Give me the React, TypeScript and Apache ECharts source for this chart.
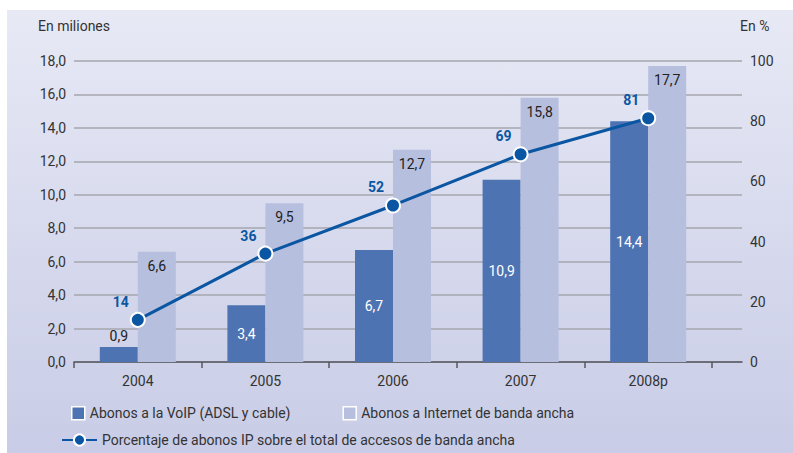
import React, { useEffect, useRef } from "react";
import * as echarts from "echarts";

const categories = ["2004", "2005", "2006", "2007", "2008p"];
const voip = [0.9, 3.4, 6.7, 10.9, 14.4];
const broadband = [6.6, 9.5, 12.7, 15.8, 17.7];
const pct = [14, 36, 52, 69, 81];

const NAME_VOIP = "Abonos a la VoIP (ADSL y cable)";
const NAME_BB = "Abonos a Internet de banda ancha";
const NAME_PCT = "Porcentaje de abonos IP sobre el total de accesos de banda ancha";

const FONT = "'Liberation Sans Narrow', Roboto, 'Liberation Sans', sans-serif";
const TXT = "#333333";
const DARK = "#4e73b3";
const LIGHT = "#b7bfdf";
const LINE = "#0b56a2";

export default function App() {
  const ref = useRef<HTMLDivElement>(null);
  useEffect(() => {
    if (!ref.current) return;
    const chart = echarts.init(ref.current, null, { renderer: "svg" });
    const fmt = (v: number) => v.toFixed(1).replace(".", ",");
    chart.setOption({
      animation: false,
      textStyle: { fontFamily: FONT },
      graphic: [
        {
          type: "rect",
          z: -10,
          silent: true,
          shape: { x: 7, y: 10, width: 786, height: 443 },
          style: {
            fill: new echarts.graphic.LinearGradient(0, 0, 0, 1, [
              { offset: 0, color: "#e7e9f5" },
              { offset: 1, color: "#c8cce6" },
            ]),
          },
        },
        {
          type: "text",
          left: 38,
          top: 19,
          style: { text: "En miliones", fill: TXT, font: `14px ${FONT}` },
        },
        {
          type: "text",
          left: 740,
          top: 19,
          style: { text: "En %", fill: TXT, font: `14px ${FONT}` },
        },
      ],
      grid: [
        { left: 74, right: 51, top: 61, bottom: 91 },
        { left: 74, right: 81, top: 61, bottom: 91 },
      ],
      legend: [
        {
          data: [NAME_VOIP, NAME_BB],
          left: 66,
          top: 401,
          itemWidth: 13,
          itemHeight: 13,
          itemGap: 52,
          icon: "rect",
          itemStyle: { borderColor: "#ffffff", borderWidth: 1.5 },
          textStyle: { fontFamily: FONT, fontSize: 14, color: TXT },
        },
        {
          data: [NAME_PCT],
          left: 56,
          top: 428,
          itemWidth: 35,
          itemHeight: 14,
          textStyle: { fontFamily: FONT, fontSize: 14, color: TXT },
        },
      ],
      xAxis: [
        {
          type: "value",
          gridIndex: 0,
          min: 0,
          max: 1,
          axisLine: { show: true, onZero: false, lineStyle: { color: "#55585f", width: 1.5 } },
          axisTick: { show: false },
          axisLabel: { show: false },
          splitLine: { show: false },
        },
        {
          type: "category",
          gridIndex: 1,
          data: categories,
          axisLine: { show: false },
          axisTick: { show: true, length: 6, lineStyle: { color: "#55585f", width: 1.5 } },
          axisLabel: { color: TXT, fontSize: 14, margin: 12, fontFamily: FONT },
        },
      ],
      yAxis: [
        {
          type: "value",
          gridIndex: 0,
          position: "left",
          min: 0,
          max: 18,
          interval: 2,
          axisLine: { show: false },
          axisTick: { show: false },
          axisLabel: { color: TXT, fontSize: 14, margin: 8, formatter: fmt, fontFamily: FONT },
          splitLine: { show: true, lineStyle: { color: "#a4a6ae", width: 1.5 } },
        },
        {
          type: "value",
          gridIndex: 0,
          position: "right",
          min: 0,
          max: 100,
          interval: 20,
          axisLine: { show: false },
          axisTick: { show: false },
          axisLabel: { color: TXT, fontSize: 14, margin: 8, fontFamily: FONT },
          splitLine: { show: false },
        },
        { type: "value", gridIndex: 1, min: 0, max: 18, show: false, splitLine: { show: false } },
        { type: "value", gridIndex: 1, min: 0, max: 100, show: false, splitLine: { show: false } },
      ],
      series: [
        {
          name: NAME_VOIP,
          type: "bar",
          xAxisIndex: 1,
          yAxisIndex: 2,
          data: voip.map((v, i) => ({
            value: v,
            label:
              i === 0
                ? { position: "top", color: "#222222", distance: 4 }
                : { position: "inside", color: "#ffffff" },
          })),
          barWidth: 38,
          barGap: "0%",
          itemStyle: { color: DARK },
          label: { show: true, fontSize: 14, fontFamily: FONT, formatter: (p: any) => fmt(p.value) },
        },
        {
          name: NAME_BB,
          type: "bar",
          xAxisIndex: 1,
          yAxisIndex: 2,
          data: broadband,
          barWidth: 38,
          barGap: "0%",
          itemStyle: { color: LIGHT },
          label: {
            show: true,
            position: "insideTop",
            distance: 7,
            color: "#222222",
            fontSize: 14,
            fontFamily: FONT,
            formatter: (p: any) => fmt(p.value),
          },
        },
        {
          name: NAME_PCT,
          type: "line",
          xAxisIndex: 1,
          yAxisIndex: 3,
          data: pct,
          z: 5,
          symbol: "circle",
          symbolSize: 14,
          lineStyle: { color: LINE, width: 3 },
          itemStyle: { color: LINE, borderColor: "#ffffff", borderWidth: 2 },
          label: {
            show: true,
            position: "top",
            offset: [-17, 0],
            distance: 3,
            color: LINE,
            fontWeight: "bold",
            fontSize: 14,
            fontFamily: FONT,
          },
        },
      ],
    });
    return () => chart.dispose();
  }, []);
  return <div ref={ref} style={{ width: 793, height: 453, position: "absolute", left: 0, top: 0 }} />;
}
